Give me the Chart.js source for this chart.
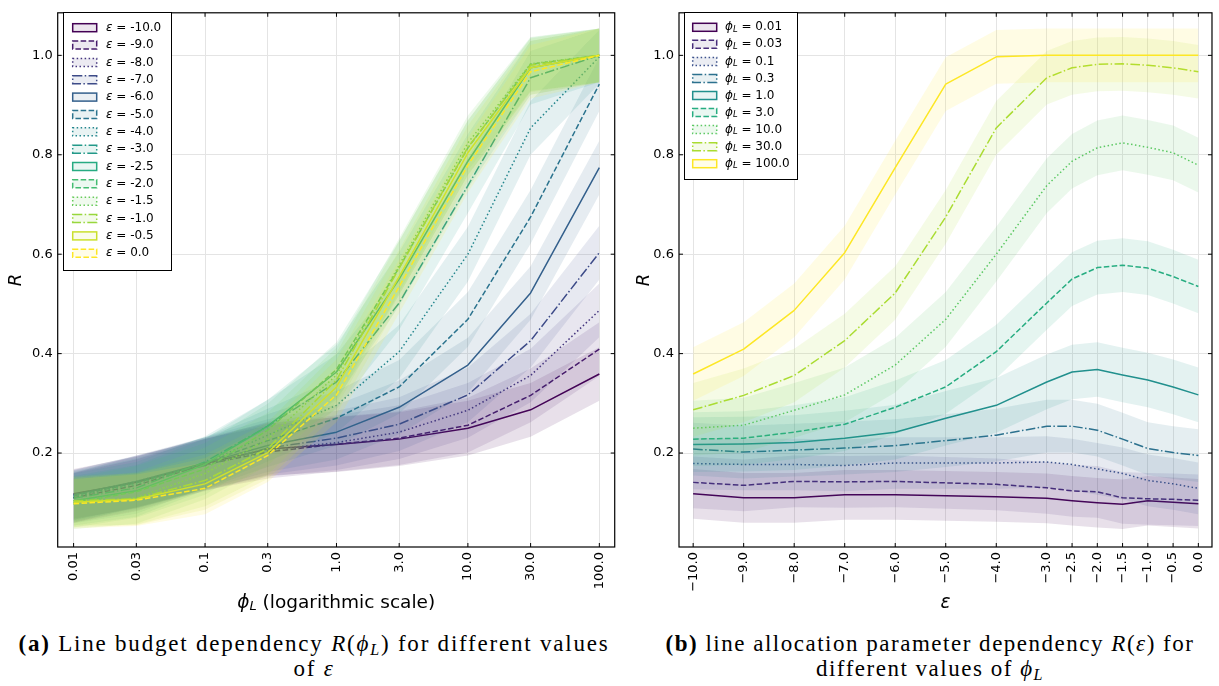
<!DOCTYPE html>
<html>
<head>
<meta charset="utf-8">
<script src="https://cdn.jsdelivr.net/npm/chart.js@4.4.1/dist/chart.umd.min.js"></script>
<style>
    body { margin: 0; background: #fff; width: 1219px; height: 686px; position: relative; overflow: hidden; }
    canvas { position: absolute; top: 0; }
    #plot_phi { left: 0; }
    #plot_eps { left: 620px; }
    .caption { position: absolute; font-family: "Liberation Serif", "Times New Roman", serif; font-size: 23px; line-height: 25px; text-align: center; white-space: nowrap; color: #000; }
    .caption sub { font-size: 70%; vertical-align: -0.25em; line-height: 0; }
</style>
</head>
<body>
<canvas id="plot_phi" width="620" height="615"></canvas>
<canvas id="plot_eps" width="599" height="615"></canvas>

<div class="caption" id="cap_a" style="left:0; width:628px; top:631px;">
    <span class="line"><b>(a)</b> Line budget dependency <i>R</i>(<i>ϕ<sub>L</sub></i>) for different values</span><br>
    <span class="line">of <i>ε</i></span>
</div>
<div class="caption" id="cap_b" style="left:630px; width:600px; top:631px;">
    <span class="line"><b>(b)</b> line allocation parameter dependency <i>R</i>(<i>ε</i>) for</span><br>
    <span class="line">different values of <i>ϕ<sub>L</sub></i></span>
</div>

<script>
// Axes
const phiValues = [0.01, 0.03, 0.1, 0.3, 1.0, 3.0, 10.0, 30.0, 100.0];
const phiTickLabels = ['0.01', '0.03', '0.1', '0.3', '1.0', '3.0', '10.0', '30.0', '100.0'];
const epsValues = [-10, -9, -8, -7, -6, -5, -4, -3, -2.5, -2, -1.5, -1, -0.5, 0];
const epsTickLabels = ['\u221210.0', '\u22129.0', '\u22128.0', '\u22127.0', '\u22126.0', '\u22125.0', '\u22124.0',
                       '\u22123.0', '\u22122.5', '\u22122.0', '\u22121.5', '\u22121.0', '\u22120.5', '0.0'];
const yTickValues = [0.2, 0.4, 0.6, 0.8, 1.0];

// Mean R for each phi_L, one value per epsilon (same order as epsValues)
const rPhi0_01 = [0.118, 0.110, 0.110, 0.116, 0.116, 0.114, 0.112, 0.109, 0.104, 0.100, 0.097, 0.104, 0.101, 0.098];
const rPhi0_03 = [0.141, 0.135, 0.143, 0.142, 0.143, 0.140, 0.137, 0.130, 0.124, 0.122, 0.110, 0.108, 0.107, 0.105];
const rPhi0_1  = [0.179, 0.177, 0.177, 0.175, 0.180, 0.180, 0.180, 0.182, 0.177, 0.168, 0.159, 0.145, 0.138, 0.129];
const rPhi0_3  = [0.208, 0.202, 0.206, 0.210, 0.215, 0.225, 0.236, 0.254, 0.254, 0.246, 0.228, 0.209, 0.201, 0.195];
const rPhi1    = [0.217, 0.218, 0.221, 0.230, 0.242, 0.270, 0.296, 0.343, 0.363, 0.368, 0.357, 0.347, 0.333, 0.317];
const rPhi3    = [0.228, 0.230, 0.242, 0.258, 0.292, 0.333, 0.404, 0.502, 0.550, 0.573, 0.578, 0.572, 0.555, 0.535];
const rPhi10   = [0.250, 0.256, 0.286, 0.317, 0.377, 0.469, 0.600, 0.738, 0.787, 0.814, 0.824, 0.815, 0.804, 0.779];
const rPhi30   = [0.287, 0.316, 0.356, 0.426, 0.522, 0.675, 0.854, 0.955, 0.975, 0.982, 0.983, 0.980, 0.975, 0.967];
const rPhi100  = [0.359, 0.409, 0.487, 0.603, 0.774, 0.942, 0.997, 1.000, 1.000, 1.000, 1.000, 1.000, 1.000, 1.000];

// Standard deviation of R for each phi_L
const spreadByPhi = [0.050, 0.052, 0.052, 0.053, 0.055, 0.054, 0.055, 0.054, 0.054];

const rByPhi = [rPhi0_01, rPhi0_03, rPhi0_1, rPhi0_3, rPhi1, rPhi3, rPhi10, rPhi30, rPhi100];

// Colours and line styles
const viridisStops = ['#440154', '#472c7a', '#3b518b', '#2c718e', '#21908d', '#27ad81', '#5cc863', '#aadc32', '#fde725'];
const hexToRgb = (h) => [parseInt(h.slice(1, 3), 16), parseInt(h.slice(3, 5), 16), parseInt(h.slice(5, 7), 16)];
const viridis = (t) =>
{
    const f = t * (viridisStops.length - 1);
    const i = Math.min(Math.floor(f), viridisStops.length - 2);
    const u = f - i;
    const a = hexToRgb(viridisStops[i]), b = hexToRgb(viridisStops[i + 1]);
    return a.map((c, k) => Math.round(c + (b[k] - c) * u));
};
const rgba = (c, alpha) => `rgba(${c[0]},${c[1]},${c[2]},${alpha})`;
const dashCycle = [[], [5.55, 2.4], [1.5, 2.475], [9.6, 2.4, 1.5, 2.4]];
const bandAlpha = 0.12;

const SANS = '"DejaVu Sans"';
const tickFont = {family: 'DejaVu Sans', size: 13};

// Series definitions
const seriesByEps = epsValues.map((eps, j) => ({
    color: viridis(j / (epsValues.length - 1))
    ,dash: dashCycle[j % 4]
    ,points: phiValues.map((phi, i) => ({x: phi, y: rByPhi[i][j], s: spreadByPhi[i]}))
    ,label: [{text: 'ε', font: `italic 12px ${SANS}`}, {text: ' = ' + eps.toFixed(1), font: `12px ${SANS}`}]
}));

const seriesByPhi = phiValues.map((phi, i) => ({
    color: viridis(i / (phiValues.length - 1))
    ,dash: dashCycle[i % 4]
    ,points: epsValues.map((eps, j) => ({x: eps, y: rByPhi[i][j], s: spreadByPhi[i]}))
    ,label: [{text: 'ϕ', font: `italic 12px ${SANS}`}, {text: 'L', font: `italic 8.5px ${SANS}`, dy: 2.5},
             {text: ' = ' + phiTickLabels[i], font: `12px ${SANS}`}]
}));

// Each series gives an upper bound, a lower bound filled up to it, and the mean line
const buildDatasets = (series) =>
{
    const n = series.length;
    const out = [];
    series.forEach((s, k) =>
    {
        const base = (n - 1 - k) * 3;
        const upperIndex = out.length;
        out.push({
            data: s.points.map(p => ({x: p.x, y: p.y + p.s}))
            ,borderColor: 'transparent', borderWidth: 0, pointRadius: 0, fill: false, order: base + 2
        });
        out.push({
            data: s.points.map(p => ({x: p.x, y: p.y - p.s}))
            ,borderColor: 'transparent', borderWidth: 0, pointRadius: 0
            ,backgroundColor: rgba(s.color, bandAlpha), fill: upperIndex, order: base + 1
        });
        out.push({
            data: s.points.map(p => ({x: p.x, y: p.y}))
            ,borderColor: rgba(s.color, 1), borderWidth: 1.5, borderDash: s.dash
            ,borderJoinStyle: 'round', pointRadius: 0, fill: false, tension: 0, order: base
        });
    });
    return out;
};

const drawRich = (ctx, parts, x, y, align) =>
{
    ctx.textBaseline = 'middle';
    ctx.textAlign = 'left';
    let w = 0;
    parts.forEach(p => { ctx.font = p.font; w += ctx.measureText(p.text).width; });
    let cx = align === 'center' ? x - w / 2 : x;
    parts.forEach(p =>
    {
        ctx.font = p.font;
        ctx.fillText(p.text, cx, y + (p.dy || 0));
        cx += ctx.measureText(p.text).width;
    });
};

// Frame, inward ticks, axis titles and legend
const decorations = (cfg) => ({
    id: 'decorations'
    ,afterDraw(chart)
    {
        const {ctx, chartArea: a, scales} = chart;
        ctx.save();
        ctx.fillStyle = '#000';
        ctx.strokeStyle = '#000';
        ctx.lineWidth = 1;
        const tl = 4;
        ctx.beginPath();
        cfg.xTicks.forEach(v =>
        {
            const px = scales.x.getPixelForValue(v);
            ctx.moveTo(px, a.bottom); ctx.lineTo(px, a.bottom - tl);
            ctx.moveTo(px, a.top); ctx.lineTo(px, a.top + tl);
        });
        yTickValues.forEach(v =>
        {
            const py = scales.y.getPixelForValue(v);
            ctx.moveTo(a.left, py); ctx.lineTo(a.left + tl, py);
            ctx.moveTo(a.right, py); ctx.lineTo(a.right - tl, py);
        });
        ctx.stroke();
        ctx.lineWidth = 1.2;
        ctx.strokeRect(a.left, a.top, a.right - a.left, a.bottom - a.top);

        // axis titles
        ctx.fillStyle = '#000';
        drawRich(ctx, cfg.xTitle, (a.left + a.right) / 2, 603, 'center');
        ctx.save();
        ctx.translate(cfg.yTitleX, (a.top + a.bottom) / 2);
        ctx.rotate(-Math.PI / 2);
        drawRich(ctx, [{text: 'R', font: `italic 18px ${SANS}`}], 0, 0, 'center');
        ctx.restore();

        // legend
        const lg = cfg.legend;
        ctx.fillStyle = '#fff';
        ctx.fillRect(lg.x, lg.y, lg.w, lg.h);
        ctx.strokeStyle = '#000';
        ctx.lineWidth = 1;
        ctx.strokeRect(lg.x + 0.5, lg.y + 0.5, lg.w, lg.h);
        cfg.series.forEach((s, i) =>
        {
            const cy = lg.firstY + i * lg.step;
            ctx.fillStyle = rgba(s.color, 0.1);
            ctx.fillRect(lg.patchX, cy - 4, 24, 8);
            ctx.setLineDash(s.dash);
            ctx.strokeStyle = rgba(s.color, 1);
            ctx.lineWidth = 1.5;
            ctx.strokeRect(lg.patchX, cy - 4, 24, 8);
            ctx.setLineDash([]);
            ctx.fillStyle = '#000';
            drawRich(ctx, s.label, lg.textX, cy, 'left');
        });
        ctx.restore();
    }
});

const makeChart = (canvasId, series, xScale, cfg) =>
{
    return new Chart(document.getElementById(canvasId),
    {
        type: 'line'
        ,data: {datasets: buildDatasets(series)}
        ,options:
        {
            responsive: false
            ,animation: false
            ,devicePixelRatio: 1
            ,layout: {padding: {top: 7, right: cfg.padRight, bottom: 0, left: 0}}
            ,plugins: {legend: {display: false}, tooltip: {enabled: false}}
            ,scales:
            {
                x: Object.assign({
                    afterBuildTicks: (s) => { s.ticks = cfg.xTicks.map(v => ({value: v})); }
                    ,afterFit: (s) => { s.height = 68; }
                    ,ticks: {autoSkip: false, minRotation: 90, maxRotation: 90, padding: 5, color: '#000', font: tickFont
                             ,callback: (v, i) => cfg.xLabels[i]}
                    ,grid: {color: '#e4e4e4', lineWidth: 1, drawTicks: false}
                    ,border: {display: false}
                }, xScale)
                ,y:
                {
                    type: 'linear', min: 0.011, max: 1.0856
                    ,afterBuildTicks: (s) => { s.ticks = yTickValues.map(v => ({value: v})); }
                    ,afterFit: (s) => { s.width = cfg.yWidth; }
                    ,ticks: {padding: 5, color: '#000', font: tickFont, callback: (v) => v.toFixed(1)}
                    ,grid: {color: '#e4e4e4', lineWidth: 1, drawTicks: false}
                    ,border: {display: false}
                }
            }
        }
        ,plugins: [decorations(cfg)]
    });
};

// R as a function of phi_L, one line per epsilon
makeChart('plot_phi', seriesByEps,
    {type: 'logarithmic', min: Math.pow(10, -2.121), max: Math.pow(10, 2.117)},
    {
        xTicks: phiValues, xLabels: phiTickLabels, yWidth: 57.7, padRight: 2.3, yTitleX: 16, series: seriesByEps
        ,xTitle: [{text: 'ϕ', font: `italic 18.5px ${SANS}`}, {text: 'L', font: `italic 13px ${SANS}`, dy: 4},
                  {text: ' (logarithmic scale)', font: `18.5px ${SANS}`}]
        ,legend: {x: 63, y: 12, w: 108, h: 258, firstY: 27.7, step: 17.35, patchX: 72.7, textX: 106}
    });

// R as a function of epsilon, one line per phi_L
makeChart('plot_eps', seriesByPhi,
    {type: 'linear', min: -10.28, max: 0.27},
    {
        xTicks: epsValues, xLabels: epsTickLabels, yWidth: 59, padRight: 2, yTitleX: 24, series: seriesByPhi
        ,xTitle: [{text: 'ε', font: `italic 18.5px ${SANS}`}]
        ,legend: {x: 64, y: 12, w: 113, h: 167, firstY: 27.3, step: 17.05, patchX: 72.7, textX: 105}
    });

// Captions: stretch letter spacing so the first line spans its column
const fitCaption = (id, target) =>
{
    const lines = document.querySelectorAll('#' + id + ' .line');
    const w = lines[0].getBoundingClientRect().width;
    const ls = (target - w) / lines[0].textContent.length;
    lines.forEach(l => { l.style.letterSpacing = ls + 'px'; });
};
fitCaption('cap_a', 591);
fitCaption('cap_b', 529);
</script>
</body>
</html>
